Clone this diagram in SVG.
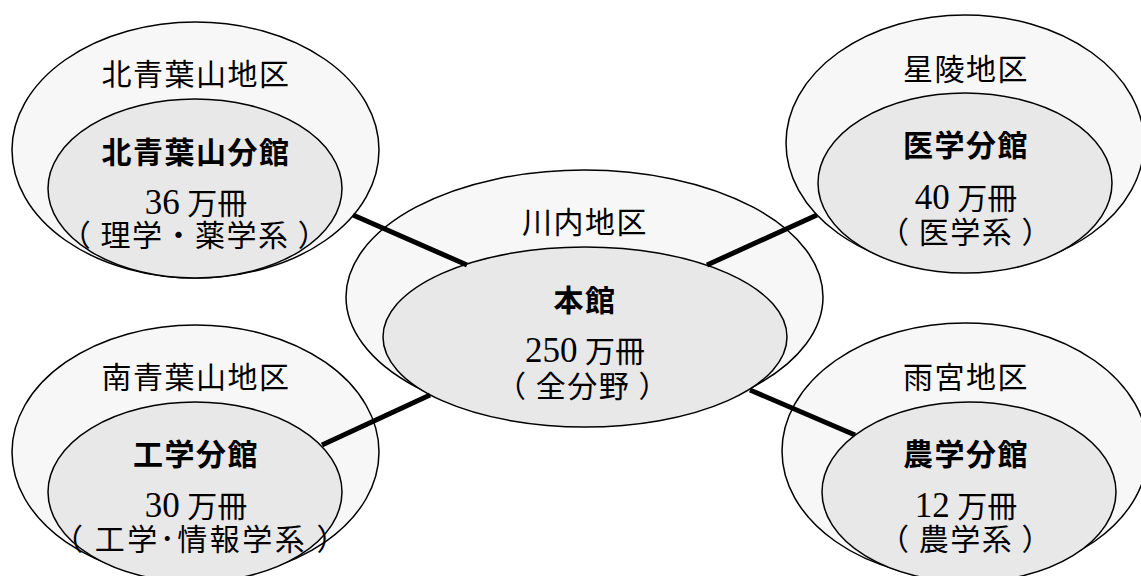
<svg xmlns="http://www.w3.org/2000/svg" width="1141" height="576" viewBox="0 0 1141 576">
<style>
.outer{fill:#f7f7f7;stroke:#000;stroke-width:1.5}
.inner{fill:#e8e8e8;stroke:#000;stroke-width:1.5}
.dist{font-family:"Noto Sans CJK JP",sans-serif;font-size:30px;letter-spacing:1.5px;text-anchor:middle;fill:#000}
.title{font-family:"Noto Sans CJK JP",sans-serif;font-size:30px;font-weight:bold;letter-spacing:1.5px;text-anchor:middle;fill:#000}
.count{font-family:"Liberation Serif","Noto Sans CJK JP",serif;font-size:30px;text-anchor:middle;fill:#000}
.num{font-size:35px}
.sub{font-family:"Noto Sans CJK JP",sans-serif;font-size:30px;letter-spacing:1.5px;text-anchor:middle;fill:#000;white-space:pre}
.link{stroke:#000;stroke-width:5;fill:none}
</style>
<rect width="1141" height="576" fill="#fff"/>
<g id="kitaaobayama">
<ellipse class="outer" cx="195.5" cy="150" rx="183.5" ry="128"/>
<ellipse class="inner" cx="195" cy="188.5" rx="147" ry="89.5"/>
<text class="dist" x="196" y="85">北青葉山地区</text>
<text class="title" x="196" y="163">北青葉山分館</text>
<text class="count" x="196" y="214"><tspan class="num">36</tspan> 万冊</text>
<text class="sub" x="195" y="246">（ 理学・薬学系 ）</text>
</g>
<g id="minamiaobayama">
<ellipse class="outer" cx="195.5" cy="452" rx="183.5" ry="127"/>
<ellipse class="inner" cx="195" cy="492" rx="147" ry="90"/>
<text class="dist" x="196" y="388">南青葉山地区</text>
<text class="title" x="196" y="465">工学分館</text>
<text class="count" x="196" y="517"><tspan class="num">30</tspan> 万冊</text>
<text class="sub" x="201" y="550" style="letter-spacing:2.5px">（ 工学･情報学系 ）</text>
</g>
<g id="kawauchi">
<ellipse class="outer" cx="584.5" cy="297" rx="238.5" ry="127"/>
<ellipse class="inner" cx="585" cy="337" rx="202" ry="90"/>
<text class="dist" x="585" y="233">川内地区</text>
<text class="title" x="585" y="311">本館</text>
<text class="count" x="585" y="362"><tspan class="num">250</tspan> 万冊</text>
<text class="sub" x="583" y="397">（ 全分野 ）</text>
</g>
<g id="seiryo">
<ellipse class="outer" cx="965" cy="143" rx="179" ry="128"/>
<ellipse class="inner" cx="965" cy="183" rx="147" ry="90"/>
<text class="dist" x="966" y="80">星陵地区</text>
<text class="title" x="966" y="156">医学分館</text>
<text class="count" x="966" y="209"><tspan class="num">40</tspan> 万冊</text>
<text class="sub" x="966" y="243">（ 医学系 ）</text>
</g>
<g id="amamiya">
<ellipse class="outer" cx="965" cy="451" rx="183" ry="128"/>
<ellipse class="inner" cx="969" cy="492" rx="147" ry="90"/>
<text class="dist" x="966" y="388">雨宮地区</text>
<text class="title" x="966" y="465">農学分館</text>
<text class="count" x="966" y="517"><tspan class="num">12</tspan> 万冊</text>
<text class="sub" x="966" y="550">（ 農学系 ）</text>
</g>
<g id="connectors">
<line class="link" x1="353" y1="215" x2="467" y2="265"/>
<line class="link" x1="707" y1="265" x2="817" y2="215"/>
<line class="link" x1="322" y1="445" x2="430" y2="395"/>
<line class="link" x1="750" y1="390" x2="855" y2="435"/>
</g>
</svg>
